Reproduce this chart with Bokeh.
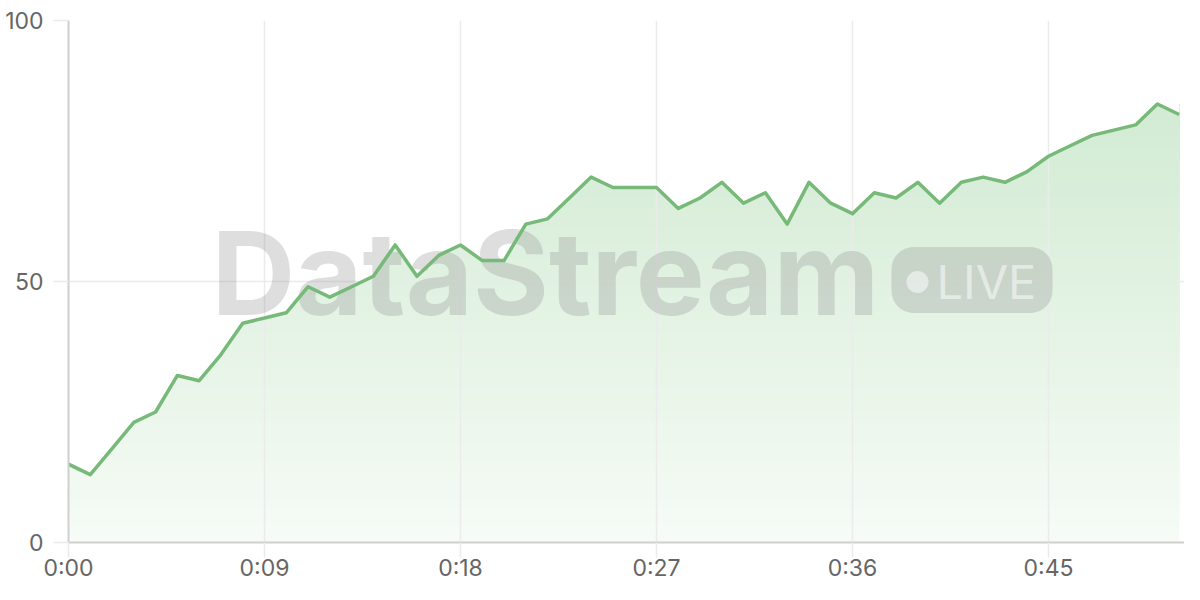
from bokeh.plotting import figure
from bokeh.models import Range1d, FixedTicker, BoxAnnotation
from bokeh.core.properties import value
from bokeh.embed import file_html
from bokeh.resources import INLINE

# ---- data ----
values = [15, 13, 18, 23, 25, 32, 31, 36, 42, 43, 44, 49, 47, 49, 51, 57, 51, 55,
          57, 54, 54, 61, 62, 66, 70, 68, 68, 68, 64, 66, 69, 65, 67, 61, 69, 65,
          63, 67, 66, 69, 65, 69, 70, 69, 71, 74, 76, 78, 79, 80, 84, 82]
seconds = list(range(len(values)))
x_ticks = [0, 9, 18, 27, 36, 45]
x_tick_labels = ["0:00", "0:09", "0:18", "0:27", "0:36", "0:45"]
y_ticks = [0, 50, 100]
y_tick_labels = ["0", "50", "100"]

LABEL_FONT = "Inter"
GRID = "#ebebeb"
AXIS = "#cfcfcf"
LINE = "#76b978"

W, H = 1184, 584
FL, FT, FB = 68, 20, 41          # frame borders (px)
XS = 196 / 9                     # px per second
YS = (H - FT - FB) / 100.0       # px per unit

def dx(px):  # screen x -> data x
    return (px - FL) / XS

def dy(py):  # screen y -> data y
    return (H - FB - py) / YS

p = figure(width=W, height=H, output_backend="svg", toolbar_location=None,
           x_range=Range1d(0, (W - FL) / XS), y_range=Range1d(0, 100),
           min_border_left=FL, min_border_right=0, min_border_top=FT, min_border_bottom=FB)
p.outline_line_color = None
p.background_fill_color = "white"
p.border_fill_color = "white"

# ---- gradient fill under the line (nested opaque quads, then white mask above line) ----
def mix(c1, c2, t):
    a = [int(c1[i:i + 2], 16) for i in (1, 3, 5)]
    b = [int(c2[i:i + 2], 16) for i in (1, 3, 5)]
    return "#%02x%02x%02x" % tuple(round(a[k] + (b[k] - a[k]) * t) for k in range(3))

bottom_col = "#f6fbf6"
top_col = "#d2ebd3"
ymax = max(values)
nb = 80
for k in range(nb):
    b = ymax * k / nb
    r = p.quad(left=seconds[0], right=seconds[-1], bottom=b, top=ymax,
               fill_color=mix(bottom_col, top_col, k / (nb - 1)), line_color=None)
    r.level = "image"
mask = p.varea(x=seconds, y1=values, y2=[100] * len(values), fill_color="white")
mask.level = "image"

# ---- watermark ----
WM = "#999999"
WA = 0.32
p.text(x=[dx(211)], y=[dy(273)], text=["DataStream"],
       text_font=value("Inter"), text_font_style="bold", text_font_size="116px",
       text_color=WM, text_alpha=WA, text_baseline="middle", text_align="left")

badge = BoxAnnotation(left=dx(891), right=dx(1052), top=dy(247), bottom=dy(313),
                      fill_color=WM, fill_alpha=WA, line_alpha=0, border_radius=22)
p.add_layout(badge)
dot = p.scatter(x=[dx(917)], y=[dy(282)], size=22,
                fill_color="white", fill_alpha=0.5, line_color=None)
dot.level = "overlay"
live = p.text(x=[dx(936)], y=[dy(281)], text=["LIVE"],
              text_font=value("Inter"), text_font_style="normal", text_font_size="47px",
              text_color="white", text_alpha=0.5, text_baseline="middle", text_align="left")
live.level = "overlay"

# ---- line ----
p.line(seconds, values, line_color=LINE, line_width=3.5, line_join="round")

# ---- axes & grid ----
p.xaxis.ticker = FixedTicker(ticks=x_ticks)
p.yaxis.ticker = FixedTicker(ticks=y_ticks)
p.xaxis.major_label_overrides = {t: l for t, l in zip(x_ticks, x_tick_labels)}
p.yaxis.major_label_overrides = {t: l for t, l in zip(y_ticks, y_tick_labels)}
p.xgrid.ticker = FixedTicker(ticks=x_ticks)
p.ygrid.ticker = FixedTicker(ticks=y_ticks)
p.grid.grid_line_color = GRID
p.grid.grid_line_width = 1.5

for ax in (p.xaxis, p.yaxis):
    ax.axis_line_color = AXIS
    ax.axis_line_width = 2
    ax.major_tick_line_color = GRID
    ax.major_tick_line_width = 1.5
    ax.major_tick_out = 15
    ax.major_tick_in = 0
    ax.minor_tick_line_color = None
    ax.major_label_text_font = LABEL_FONT
    ax.major_label_text_font_size = "23px"
    ax.major_label_text_color = "#666666"
p.xaxis.major_label_standoff = -4
p.yaxis.major_label_standoff = 10

open("out.html", "w").write(file_html(p, INLINE))
